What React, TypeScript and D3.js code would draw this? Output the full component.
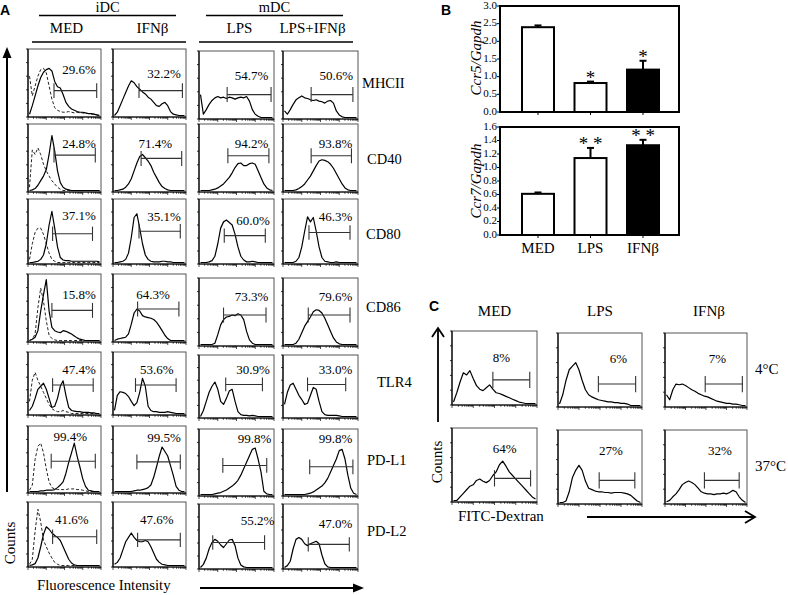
import React from 'react';
import * as d3 from 'd3';

// ---------- Panel A data ----------
const MARKERS = ['MHCII', 'CD40', 'CD80', 'CD86', 'TLR4', 'PD-L1', 'PD-L2'];
const CONDITIONS_A = ['MED', 'IFNβ', 'LPS', 'LPS+IFNβ'];
const GROUPS_A = ['iDC', 'mDC'];
const PCT_A = [
  ['29.6%', '32.2%', '54.7%', '50.6%'],
  ['24.8%', '71.4%', '94.2%', '93.8%'],
  ['37.1%', '35.1%', '60.0%', '46.3%'],
  ['15.8%', '64.3%', '73.3%', '79.6%'],
  ['47.4%', '53.6%', '30.9%', '33.0%'],
  ['99.4%', '99.5%', '99.8%', '99.8%'],
  ['41.6%', '47.6%', '55.2%', '47.0%'],
];
// gate [start, end, level] in histogram units
const GATES_A = [
  [[0.35, 0.96, 0.38], [0.35, 0.97, 0.38], [0.37, 0.98, 0.35], [0.37, 0.95, 0.35]],
  [[0.35, 0.94, 0.54], [0.38, 0.96, 0.49], [0.38, 0.95, 0.53], [0.37, 0.93, 0.53]],
  [[0.33, 0.9, 0.46], [0.35, 0.94, 0.5], [0.33, 0.9, 0.43], [0.34, 0.91, 0.48]],
  [[0.32, 0.9, 0.46], [0.33, 0.92, 0.48], [0.32, 0.91, 0.45], [0.33, 0.91, 0.45]],
  [[0.33, 0.91, 0.47], [0.3, 0.88, 0.47], [0.35, 0.86, 0.53], [0.32, 0.85, 0.53]],
  [[0.31, 0.94, 0.47], [0.32, 0.94, 0.46], [0.31, 0.92, 0.45], [0.35, 0.95, 0.43]],
  [[0.33, 0.96, 0.46], [0.33, 0.94, 0.41], [0.17, 0.89, 0.4], [0.33, 0.9, 0.37]],
];
const LABEL_AT_A = [
  [[0.7, 0.67], [0.7, 0.62], [0.7, 0.62], [0.71, 0.62]],
  [[0.7, 0.69], [0.58, 0.69], [0.7, 0.69], [0.7, 0.69]],
  [[0.7, 0.73], [0.7, 0.7], [0.72, 0.64], [0.7, 0.7]],
  [[0.7, 0.68], [0.55, 0.68], [0.7, 0.71], [0.7, 0.71]],
  [[0.7, 0.7], [0.6, 0.7], [0.72, 0.75], [0.7, 0.75]],
  [[0.58, 0.82], [0.7, 0.8], [0.74, 0.84], [0.7, 0.84]],
  [[0.6, 0.7], [0.6, 0.7], [0.78, 0.73], [0.7, 0.68]],
];

// histogram heights, equally spaced along log fluorescence axis
const MHCII_MED = [0.02, 0.15, 0.3, 0.45, 0.58, 0.66, 0.7, 0.72, 0.68, 0.52, 0.44, 0.42, 0.32, 0.2, 0.14, 0.1, 0.08, 0.06, 0.05, 0.05, 0.04, 0.03, 0.03, 0.02, 0.01, 0];
const MHCII_MED_ISO = [0.6, 0.3, 0.45, 0.6, 0.7, 0.72, 0.65, 0.45, 0.25, 0.12, 0.08, 0.06, 0.05, 0.05, 0.06, 0.05, 0.04, 0.05, 0.04, 0.04, 0.03, 0.03, 0.02, 0.02, 0.01, 0];
const MHCII_IFN = [0, 0.05, 0.15, 0.25, 0.35, 0.45, 0.53, 0.5, 0.44, 0.4, 0.36, 0.33, 0.28, 0.25, 0.2, 0.15, 0.14, 0.18, 0.2, 0.15, 0.06, 0.02, 0.01, 0, 0, 0];
const MHCII_LPS = [0.35, 0.05, 0.12, 0.2, 0.26, 0.3, 0.32, 0.3, 0.31, 0.29, 0.31, 0.3, 0.28, 0.3, 0.31, 0.3, 0.32, 0.25, 0.12, 0.05, 0.02, 0, 0, 0, 0, 0];
const MHCII_LPSIFN = [0.1, 0.05, 0.12, 0.2, 0.27, 0.3, 0.33, 0.3, 0.29, 0.27, 0.26, 0.27, 0.25, 0.24, 0.22, 0.25, 0.26, 0.22, 0.1, 0.04, 0.01, 0, 0, 0, 0, 0];

const CD40_MED = [0, 0.01, 0.03, 0.08, 0.15, 0.22, 0.32, 0.55, 0.84, 0.6, 0.3, 0.12, 0.05, 0.02, 0.01, 0, 0, 0, 0, 0, 0, 0, 0, 0, 0, 0];
const CD40_MED_ISO = [0.05, 0.62, 0.55, 0.65, 0.55, 0.4, 0.3, 0.22, 0.15, 0.1, 0.05, 0.02, 0, 0, 0, 0, 0, 0, 0, 0, 0, 0, 0, 0, 0, 0];
const CD40_IFN = [0, 0, 0.01, 0.02, 0.05, 0.1, 0.18, 0.3, 0.42, 0.52, 0.55, 0.5, 0.45, 0.38, 0.28, 0.2, 0.12, 0.06, 0.03, 0.01, 0, 0, 0, 0, 0, 0];
const CD40_LPS = [0, 0, 0, 0, 0.01, 0.02, 0.04, 0.07, 0.1, 0.15, 0.2, 0.27, 0.35, 0.41, 0.42, 0.38, 0.38, 0.41, 0.42, 0.4, 0.3, 0.2, 0.1, 0.04, 0.01, 0];
const CD40_LPSIFN = [0, 0, 0, 0, 0.01, 0.03, 0.06, 0.1, 0.16, 0.22, 0.3, 0.38, 0.45, 0.47, 0.46, 0.44, 0.4, 0.34, 0.26, 0.18, 0.1, 0.04, 0.01, 0, 0, 0];

const CD80_MED = [0, 0, 0.01, 0.02, 0.05, 0.12, 0.3, 0.6, 0.82, 0.55, 0.25, 0.08, 0.04, 0.03, 0.03, 0.02, 0.02, 0.02, 0.02, 0.02, 0.02, 0.02, 0.02, 0.02, 0.02, 0.01];
const CD80_MED_ISO = [0.05, 0.3, 0.48, 0.55, 0.55, 0.45, 0.3, 0.15, 0.05, 0.02, 0, 0, 0, 0, 0, 0, 0, 0, 0, 0, 0, 0, 0, 0, 0, 0];
const CD80_IFN = [0, 0, 0.01, 0.02, 0.05, 0.15, 0.4, 0.72, 0.78, 0.55, 0.3, 0.12, 0.05, 0.02, 0.01, 0.01, 0.01, 0.02, 0.02, 0.01, 0.01, 0, 0, 0, 0, 0];
const CD80_LPS = [0, 0, 0, 0.01, 0.03, 0.1, 0.3, 0.55, 0.65, 0.68, 0.64, 0.6, 0.45, 0.25, 0.1, 0.04, 0.01, 0.01, 0.02, 0.01, 0, 0, 0, 0, 0, 0];
const CD80_LPSIFN = [0, 0, 0, 0, 0.02, 0.08, 0.25, 0.5, 0.73, 0.65, 0.72, 0.5, 0.25, 0.08, 0.02, 0.01, 0, 0, 0.01, 0, 0, 0, 0, 0, 0, 0];

const CD86_MED = [0, 0.02, 0.05, 0.15, 0.45, 0.7, 0.93, 0.45, 0.2, 0.15, 0.13, 0.12, 0.15, 0.14, 0.12, 0.1, 0.07, 0.04, 0.02, 0.01, 0, 0, 0, 0, 0, 0];
const CD86_MED_ISO = [0, 0.02, 0.1, 0.5, 0.8, 0.6, 0.3, 0.08, 0.03, 0.01, 0, 0, 0, 0, 0, 0, 0, 0, 0, 0, 0, 0, 0, 0, 0, 0];
const CD86_IFN = [0, 0.02, 0.03, 0.04, 0.05, 0.1, 0.25, 0.42, 0.48, 0.45, 0.38, 0.36, 0.35, 0.34, 0.32, 0.28, 0.22, 0.15, 0.08, 0.03, 0, 0, 0, 0, 0, 0];
const CD86_LPS = [0, 0, 0, 0, 0, 0.02, 0.15, 0.3, 0.38, 0.42, 0.43, 0.45, 0.44, 0.47, 0.45, 0.38, 0.2, 0.07, 0.02, 0, 0, 0, 0, 0, 0, 0];
const CD86_LPSIFN = [0, 0, 0, 0, 0.02, 0.08, 0.18, 0.28, 0.35, 0.42, 0.5, 0.53, 0.52, 0.48, 0.4, 0.3, 0.2, 0.1, 0.04, 0.01, 0, 0, 0, 0, 0, 0];

const TLR4_MED = [0.05, 0.12, 0.25, 0.4, 0.45, 0.5, 0.4, 0.25, 0.1, 0.12, 0.25, 0.45, 0.54, 0.3, 0.1, 0.05, 0.04, 0.03, 0.03, 0.02, 0.02, 0.02, 0.01, 0.01, 0, 0];
const TLR4_MED_ISO = [0.2, 0.55, 0.68, 0.55, 0.45, 0.35, 0.25, 0.15, 0.08, 0.05, 0.03, 0.03, 0.05, 0.03, 0.02, 0, 0, 0, 0, 0, 0, 0, 0, 0, 0, 0];
const TLR4_IFN = [0.05, 0.3, 0.36, 0.35, 0.33, 0.28, 0.2, 0.13, 0.18, 0.35, 0.58, 0.45, 0.12, 0.05, 0.03, 0.03, 0.02, 0.02, 0.02, 0.03, 0.02, 0.01, 0, 0, 0, 0];
const TLR4_LPS = [0, 0.1, 0.25, 0.4, 0.5, 0.57, 0.45, 0.25, 0.2, 0.3, 0.42, 0.45, 0.25, 0.08, 0.03, 0.02, 0.02, 0.01, 0.02, 0.01, 0, 0, 0, 0, 0, 0];
const TLR4_LPSIFN = [0.2, 0.4, 0.52, 0.55, 0.45, 0.35, 0.28, 0.2, 0.22, 0.35, 0.48, 0.45, 0.25, 0.08, 0.03, 0.02, 0.02, 0.02, 0.02, 0.01, 0, 0, 0, 0, 0, 0];

const PDL1_MED = [0, 0, 0, 0, 0.01, 0.01, 0.02, 0.02, 0.02, 0.03, 0.06, 0.1, 0.15, 0.28, 0.45, 0.6, 0.75, 0.55, 0.38, 0.2, 0.08, 0.02, 0.01, 0, 0, 0];
const PDL1_MED_ISO = [0.02, 0.1, 0.5, 0.7, 0.75, 0.6, 0.35, 0.15, 0.06, 0.04, 0.03, 0.03, 0.03, 0.03, 0.04, 0.04, 0.04, 0.03, 0.03, 0.02, 0.01, 0, 0, 0, 0, 0];
const PDL1_IFN = [0, 0, 0, 0, 0, 0, 0, 0.01, 0.02, 0.02, 0.03, 0.04, 0.06, 0.1, 0.22, 0.38, 0.55, 0.69, 0.62, 0.55, 0.4, 0.25, 0.08, 0.02, 0, 0];
const PDL1_LPS = [0, 0, 0, 0, 0, 0.01, 0.02, 0.03, 0.05, 0.07, 0.1, 0.13, 0.17, 0.22, 0.3, 0.4, 0.5, 0.6, 0.7, 0.72, 0.55, 0.35, 0.05, 0.01, 0, 0];
const PDL1_LPSIFN = [0, 0, 0, 0, 0, 0, 0, 0, 0.01, 0.02, 0.04, 0.07, 0.1, 0.13, 0.18, 0.25, 0.35, 0.45, 0.55, 0.68, 0.7, 0.55, 0.3, 0.1, 0.02, 0];

const PDL2_MED = [0, 0.01, 0.03, 0.12, 0.3, 0.5, 0.62, 0.58, 0.52, 0.48, 0.45, 0.4, 0.3, 0.2, 0.1, 0.04, 0.01, 0, 0, 0, 0, 0, 0, 0, 0, 0];
const PDL2_MED_ISO = [0.02, 0.1, 0.55, 0.9, 0.7, 0.4, 0.3, 0.2, 0.12, 0.05, 0.02, 0, 0, 0, 0, 0, 0, 0, 0, 0, 0, 0, 0, 0, 0, 0];
const PDL2_IFN = [0.02, 0.05, 0.12, 0.25, 0.38, 0.45, 0.52, 0.45, 0.4, 0.38, 0.38, 0.4, 0.38, 0.3, 0.2, 0.1, 0.05, 0.02, 0.01, 0, 0, 0, 0, 0, 0, 0];
const PDL2_LPS = [0, 0.05, 0.15, 0.3, 0.4, 0.45, 0.42, 0.36, 0.32, 0.38, 0.44, 0.45, 0.35, 0.15, 0.04, 0.01, 0, 0, 0, 0, 0, 0, 0, 0, 0, 0];
const PDL2_LPSIFN = [0, 0.03, 0.1, 0.3, 0.45, 0.48, 0.45, 0.38, 0.35, 0.38, 0.4, 0.42, 0.38, 0.2, 0.06, 0.01, 0, 0, 0, 0, 0, 0, 0, 0, 0, 0];

const HIST_A = [
  [MHCII_MED, MHCII_IFN, MHCII_LPS, MHCII_LPSIFN],
  [CD40_MED, CD40_IFN, CD40_LPS, CD40_LPSIFN],
  [CD80_MED, CD80_IFN, CD80_LPS, CD80_LPSIFN],
  [CD86_MED, CD86_IFN, CD86_LPS, CD86_LPSIFN],
  [TLR4_MED, TLR4_IFN, TLR4_LPS, TLR4_LPSIFN],
  [PDL1_MED, PDL1_IFN, PDL1_LPS, PDL1_LPSIFN],
  [PDL2_MED, PDL2_IFN, PDL2_LPS, PDL2_LPSIFN],
];
const ISO_A = [MHCII_MED_ISO, CD40_MED_ISO, CD80_MED_ISO, CD86_MED_ISO, TLR4_MED_ISO, PDL1_MED_ISO, PDL2_MED_ISO];

// ---------- Panel B data ----------
const GROUPS_B = ['MED', 'LPS', 'IFNβ'];
const CCR5 = [2.4, 0.82, 1.2];
const CCR5_ERR = [0.05, 0.04, 0.25];
const CCR5_SIG = ['', '*', '*'];
const CCR7 = [0.61, 1.14, 1.33];
const CCR7_ERR = [0.02, 0.15, 0.08];
const CCR7_SIG = ['', '**', '**'];
const BAR_FILL_B = ['#fff', '#fff', '#000'];

// ---------- Panel C data ----------
const CONDITIONS_C = ['MED', 'LPS', 'IFNβ'];
const TEMPS_C = ['4°C', '37°C'];
const PCT_C = [['8%', '6%', '7%'], ['64%', '27%', '32%']];
const GATES_C = [
  [[0.48, 0.93, 0.33], [0.48, 0.94, 0.3], [0.49, 0.96, 0.3]],
  [[0.5, 0.94, 0.31], [0.49, 0.93, 0.31], [0.48, 0.92, 0.31]],
];
const LABEL_AT_C = [
  [[0.58, 0.62], [0.72, 0.63], [0.64, 0.63]],
  [[0.62, 0.7], [0.63, 0.7], [0.67, 0.7]],
];
const FITC_MED_4 = [0.02, 0.15, 0.3, 0.43, 0.4, 0.46, 0.35, 0.25, 0.2, 0.18, 0.22, 0.26, 0.2, 0.15, 0.14, 0.12, 0.1, 0.08, 0.06, 0.04, 0.02, 0.01, 0, 0, 0, 0];
const FITC_LPS_4 = [0.02, 0.15, 0.35, 0.5, 0.55, 0.6, 0.5, 0.35, 0.22, 0.15, 0.12, 0.1, 0.08, 0.07, 0.06, 0.05, 0.05, 0.04, 0.04, 0.03, 0.03, 0.02, 0, 0, 0, 0];
const FITC_IFN_4 = [0.15, 0.08, 0.22, 0.3, 0.29, 0.3, 0.28, 0.25, 0.22, 0.2, 0.17, 0.15, 0.13, 0.12, 0.1, 0.08, 0.06, 0.05, 0.04, 0.03, 0.03, 0.02, 0.02, 0.01, 0, 0];
const FITC_MED_37 = [0, 0, 0.05, 0.1, 0.15, 0.2, 0.22, 0.28, 0.3, 0.27, 0.25, 0.28, 0.35, 0.4, 0.5, 0.55, 0.48, 0.4, 0.35, 0.3, 0.25, 0.2, 0.15, 0.1, 0.05, 0.02];
const FITC_LPS_37 = [0, 0, 0.02, 0.15, 0.35, 0.45, 0.52, 0.45, 0.3, 0.2, 0.18, 0.16, 0.15, 0.15, 0.14, 0.14, 0.13, 0.14, 0.14, 0.14, 0.13, 0.12, 0.1, 0.06, 0.02, 0];
const FITC_IFN_37 = [0.01, 0.03, 0.08, 0.12, 0.18, 0.25, 0.28, 0.3, 0.28, 0.25, 0.2, 0.15, 0.13, 0.12, 0.12, 0.11, 0.12, 0.12, 0.13, 0.12, 0.14, 0.17, 0.15, 0.08, 0.03, 0];
const HIST_C = [
  [FITC_MED_4, FITC_LPS_4, FITC_IFN_4],
  [FITC_MED_37, FITC_LPS_37, FITC_IFN_37],
];

// ---------- layout ----------
const SERIF = '"Liberation Serif", "Times New Roman", serif';
const SANS = '"Liberation Sans", Arial, sans-serif';
const A_COL_X = [28, 113, 199, 283];
const A_COL_W = [73, 73, 75, 75];
const A_ROW_Y = [49, 124, 199, 274, 352, 426, 502];
const A_ROW_H = [68, 68, 65, 68, 63, 67, 65];
const A_MDC_DY = [2, 0, 0, 4, 3, 3, 2];
const A_ROW_LABEL_X = [362, 367, 366, 366, 377, 367, 367];
const A_ROW_LABEL_Y = [85, 161, 236, 309, 384, 462, 533];
const C_COL_X = [452, 558, 665];
const C_COL_W = [85, 84, 82];
const C_ROW_Y = [331, 428];
const C_ROW_H = 74;

const tickLog = d3.scaleLog().domain([1, 1e4]);
const logTicks = tickLog.ticks();

function HistPanel(props: any) {
  const { x, y, w, h, solid, dashed, gate, pct, labelAt } = props;
  const sx = d3.scaleLinear().domain([0, 1]).range([x + 1.5, x + w - 1.5]);
  const sy = d3.scaleLinear().domain([0, 1]).range([y + h - 1.5, y + 1]);
  const line = d3
    .line<number>()
    .x((_d, i, arr) => sx(i / (arr.length - 1)))
    .y((d) => sy(d));
  const tl = tickLog.copy().range([x, x + w]);
  const yt = d3.scaleLinear().domain([0, 1]).range([y + h, y]).ticks(5);
  const gy = sy(gate[2]);
  const tk = h * 0.11;
  return (
    <g>
      <rect x={x} y={y} width={w} height={h} fill="#fff" stroke="#555" strokeWidth={1} />
      <line x1={x} y1={y} x2={x} y2={y + h} stroke="#000" strokeWidth={1.2} />
      <line x1={x} y1={y + h} x2={x + w} y2={y + h} stroke="#000" strokeWidth={1.2} />
      {yt.map((t, i) => (
        <line key={'yt' + i} x1={x - 2} x2={x} y1={y + h - t * h} y2={y + h - t * h} stroke="#000" strokeWidth={0.8} />
      ))}
      {logTicks.map((t, i) => {
        const major = Math.abs(Math.log10(t) - Math.round(Math.log10(t))) < 1e-9;
        return (
          <line key={'xt' + i} x1={tl(t)} x2={tl(t)} y1={y + h} y2={y + h + (major ? 3 : 1.8)} stroke="#000" strokeWidth={0.7} />
        );
      })}
      {dashed && (
        <path d={line(dashed) || ''} fill="none" stroke="#222" strokeWidth={1} strokeDasharray="3,2" />
      )}
      <path d={line(solid) || ''} fill="none" stroke="#000" strokeWidth={1.2} strokeLinejoin="round" />
      <line x1={sx(gate[0])} x2={sx(gate[1])} y1={gy} y2={gy} stroke="#333" strokeWidth={1.1} />
      <line x1={sx(gate[0])} x2={sx(gate[0])} y1={gy - tk} y2={gy + tk} stroke="#333" strokeWidth={1.1} />
      <line x1={sx(gate[1])} x2={sx(gate[1])} y1={gy - tk} y2={gy + tk} stroke="#333" strokeWidth={1.1} />
      <text
        x={x + labelAt[0] * w}
        y={y + h - labelAt[1] * h}
        textAnchor="middle"
        dominantBaseline="middle"
        fontFamily={SERIF}
        fontSize={13}
      >
        {pct}
      </text>
    </g>
  );
}

function PanelA() {
  return (
    <g>
      <text x={0} y={15} fontFamily={SANS} fontWeight="bold" fontSize={14}>A</text>
      {GROUPS_A.map((g, i) => {
        const x0 = i === 0 ? 39 : 206;
        const x1 = i === 0 ? 176 : 343;
        return (
          <g key={g}>
            <text x={(x0 + x1) / 2} y={12} textAnchor="middle" fontFamily={SERIF} fontSize={14.5}>{g}</text>
            <line x1={x0} x2={x1} y1={15.5} y2={15.5} stroke="#000" strokeWidth={1.3} />
          </g>
        );
      })}
      {CONDITIONS_A.map((c, i) => (
        <text key={c} x={A_COL_X[i] + A_COL_W[i] / 2 + (i === 0 ? 2 : i === 3 ? -8 : 3)} y={30} textAnchor="middle" dominantBaseline="middle" fontFamily={SERIF} fontSize={15}>{c}</text>
      ))}
      <line x1={32} x2={186} y1={42} y2={42} stroke="#000" strokeWidth={1.3} />
      <line x1={199} x2={353} y1={42} y2={42} stroke="#000" strokeWidth={1.3} />
      {MARKERS.map((m, r) => (
        <g key={m}>
          {CONDITIONS_A.map((c, ci) => (
            <HistPanel
              key={c}
              x={A_COL_X[ci]}
              y={A_ROW_Y[r] + (ci >= 2 ? A_MDC_DY[r] : 0)}
              w={A_COL_W[ci]}
              h={A_ROW_H[r]}
              solid={HIST_A[r][ci]}
              dashed={ci === 0 ? ISO_A[r] : null}
              gate={GATES_A[r][ci]}
              pct={PCT_A[r][ci]}
              labelAt={LABEL_AT_A[r][ci]}
            />
          ))}
          <text x={A_ROW_LABEL_X[r]} y={A_ROW_LABEL_Y[r]} dominantBaseline="middle" fontFamily={SERIF} fontSize={14.5}>{m}</text>
        </g>
      ))}
      {/* axes arrows */}
      <line x1={7} x2={7} y1={56} y2={492} stroke="#000" strokeWidth={2} />
      <path d="M2.5,58 L7,47 L11.5,58 Z" fill="#000" />
      <text transform="translate(15,543) rotate(-90)" textAnchor="middle" fontFamily={SERIF} fontSize={15}>Counts</text>
      <text x={37} y={590} fontFamily={SERIF} fontSize={14.8}>Fluorescence Intensity</text>
      <line x1={200} x2={355} y1={588} y2={588} stroke="#000" strokeWidth={2} />
      <path d="M353,583.5 L364,588 L353,592.5 Z" fill="#000" />
    </g>
  );
}

function BarChart(props: any) {
  const { top, bottom, max, step, values, errs, sigs, title, titleY, showX } = props;
  const left = 500;
  const right = 679;
  const xs = d3.scalePoint<string>().domain(GROUPS_B).range([538, 643]);
  const ys = d3.scaleLinear().domain([0, max]).range([bottom, top]);
  const ticks = d3.range(0, max + step / 2, step);
  const bw = 32;
  return (
    <g>
      {ticks.map((t, i) => (
        <g key={i}>
          <line x1={left - 3} x2={left} y1={ys(t)} y2={ys(t)} stroke="#000" strokeWidth={1} />
          <text x={497} y={ys(t)} textAnchor="end" dominantBaseline="middle" fontFamily={SERIF} fontSize={11}>{d3.format('.1f')(t)}</text>
        </g>
      ))}
      {GROUPS_B.map((g, i) => {
        const cx = xs(g) as number;
        const yTop = ys(values[i]);
        const yErr = ys(values[i] + errs[i]);
        return (
          <g key={g}>
            <line x1={cx} x2={cx} y1={bottom} y2={bottom + 3} stroke="#000" strokeWidth={1} />
            <line x1={cx} x2={cx} y1={yTop} y2={yErr} stroke="#000" strokeWidth={2} />
            <line x1={cx - 3.5} x2={cx + 3.5} y1={yErr} y2={yErr} stroke="#000" strokeWidth={2} />
            <rect x={cx - bw / 2} y={yTop} width={bw} height={bottom - yTop} fill={BAR_FILL_B[i]} stroke="#000" strokeWidth={2} />
            {sigs[i] && (
              <text x={cx} y={yErr + 2} textAnchor="middle" fontFamily={SERIF} fontSize={19}>{sigs[i].split('').join(' ')}</text>
            )}
            {showX && (
              <text x={cx} y={250} textAnchor="middle" dominantBaseline="middle" fontFamily={SERIF} fontSize={15}>{g}</text>
            )}
          </g>
        );
      })}
      <rect x={left} y={ys(max)} width={right - left} height={bottom - ys(max)} fill="none" stroke="#000" strokeWidth={2} />
      <text transform={`translate(481,${titleY}) rotate(-90)`} textAnchor="middle" fontFamily={SERIF} fontStyle="italic" fontSize={15}>{title}</text>
    </g>
  );
}

function PanelB() {
  return (
    <g>
      <text x={441} y={15} fontFamily={SANS} fontWeight="bold" fontSize={14}>B</text>
      <BarChart top={6} bottom={112} max={3} step={0.5} values={CCR5} errs={CCR5_ERR} sigs={CCR5_SIG} title="Ccr5/Gapdh" titleY={58} showX={false} />
      <BarChart top={127} bottom={235} max={1.6} step={0.2} values={CCR7} errs={CCR7_ERR} sigs={CCR7_SIG} title="Ccr7/Gapdh" titleY={181} showX={true} />
    </g>
  );
}

function PanelC() {
  return (
    <g>
      <text x={429} y={311} fontFamily={SANS} fontWeight="bold" fontSize={14}>C</text>
      {CONDITIONS_C.map((c, i) => (
        <text key={c} x={C_COL_X[i] + C_COL_W[i] / 2 + (i === 2 ? 3 : 0)} y={313} textAnchor="middle" dominantBaseline="middle" fontFamily={SERIF} fontSize={15}>{c}</text>
      ))}
      {TEMPS_C.map((t, r) => (
        <g key={t}>
          {CONDITIONS_C.map((c, ci) => (
            <HistPanel
              key={c}
              x={C_COL_X[ci]}
              y={C_ROW_Y[r] + (ci > 0 ? 2 : 0)}
              w={C_COL_W[ci]}
              h={C_ROW_H}
              solid={HIST_C[r][ci]}
              dashed={null}
              gate={GATES_C[r][ci]}
              pct={PCT_C[r][ci]}
              labelAt={LABEL_AT_C[r][ci]}
            />
          ))}
          <text x={755} y={C_ROW_Y[r] + 40} dominantBaseline="middle" fontFamily={SERIF} fontSize={15}>{t}</text>
        </g>
      ))}
      <line x1={438} x2={438} y1={329} y2={422} stroke="#000" strokeWidth={1.8} />
      <path d="M432,337 L438,328 L444,337" fill="none" stroke="#000" strokeWidth={1.8} />
      <text transform="translate(442,462) rotate(-90)" textAnchor="middle" fontFamily={SERIF} fontSize={15}>Counts</text>
      <text x={458} y={521} fontFamily={SERIF} fontSize={15}>FITC-Dextran</text>
      <line x1={587} x2={754} y1={517} y2={517} stroke="#000" strokeWidth={1.8} />
      <path d="M745,511 L755,517 L745,523" fill="none" stroke="#000" strokeWidth={1.8} />
    </g>
  );
}

export default function App() {
  return (
    <svg
      width={788}
      height={595}
      viewBox="0 0 788 595"
      style={{ position: 'absolute', left: 0, top: 0, background: '#fff' }}
    >
      <rect width={788} height={595} fill="#fff" />
      <PanelA />
      <PanelB />
      <PanelC />
    </svg>
  );
}
